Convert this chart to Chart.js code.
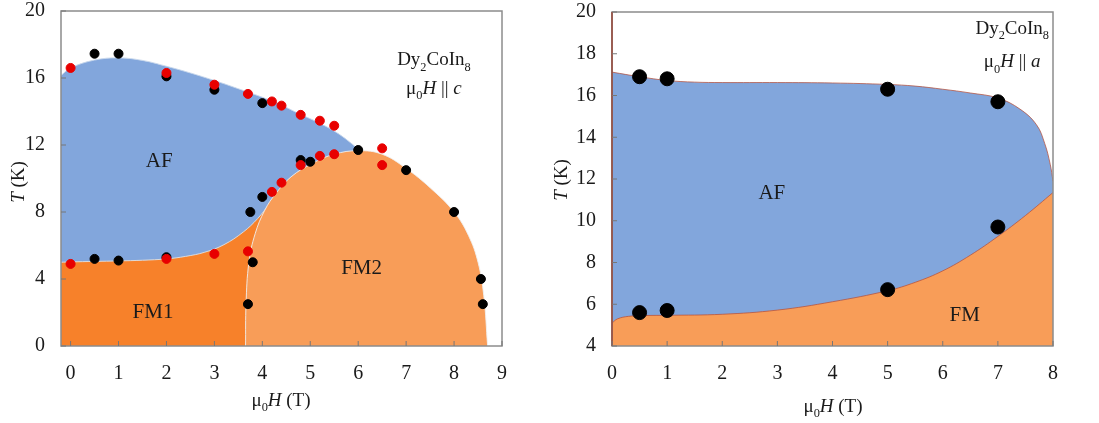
<!DOCTYPE html>
<html lang="en">
<head>
    <meta charset="UTF-8">
    <title>Dy2CoIn8 phase diagrams</title>
    <script src="https://cdn.jsdelivr.net/npm/chart.js"></script>
    <style>
        body { margin: 0; background: #fff; }
        canvas { position: absolute; top: 0; }
        #chartC { left: 0; }
        #chartA { left: 550px; }
    </style>
</head>
<body>
    <canvas id="chartC" width="550" height="423"></canvas>
    <canvas id="chartA" width="549" height="423"></canvas>

    <script>
        // ---- left panel: field along c ----
        const cHTicks = [0, 1, 2, 3, 4, 5, 6, 7, 8, 9];
        const cTTicks = [0, 4, 8, 12, 16, 20];

        const cBlackH = [0.5, 1, 2, 3, 4, 4.8, 5, 6, 7, 8, 4, 3.75, 0.5, 1, 2, 3.8, 3.7, 8.56, 8.6];
        const cBlackT = [17.45, 17.45, 16.1, 15.3, 14.5, 11.1, 11.0, 11.7, 10.5, 8.0, 8.9, 8.0, 5.2, 5.1, 5.3, 5.0, 2.5, 4.0, 2.5];
        const cRedH = [0, 2, 3, 3.7, 4.2, 4.4, 4.8, 5.2, 5.5, 6.5, 6.5, 5.5, 5.2, 4.8, 4.4, 4.2, 0, 2, 3, 3.7];
        const cRedT = [16.6, 16.3, 15.6, 15.05, 14.6, 14.35, 13.8, 13.45, 13.15, 11.8, 10.8, 11.45, 11.35, 10.8, 9.75, 9.2, 4.9, 5.2, 5.5, 5.65];

        // phase boundaries
        const cAfH = [-0.2, 0, 0.5, 1, 1.5, 2, 2.5, 3, 3.5, 4, 4.4, 4.8, 5.2, 5.6, 6.05];
        const cAfT = [16.15, 16.6, 17.07, 17.2, 17.05, 16.7, 16.3, 15.85, 15.36, 14.85, 14.38, 13.82, 13.3, 12.65, 11.65];
        const cFm1H = [-0.2, 0, 0.5, 1, 1.5, 2, 2.4, 2.8, 3.2, 3.6, 3.9, 4.15, 4.3];
        const cFm1T = [5.0, 5.02, 5.05, 5.08, 5.12, 5.2, 5.35, 5.6, 6.05, 6.8, 7.6, 8.5, 9.1];
        const cFm2H = [3.65, 3.66, 3.72, 3.85, 4.05, 4.28, 4.6, 5.04, 5.5, 6.0, 6.5, 7.0, 7.5, 8.0, 8.3, 8.5, 8.62, 8.7];
        const cFm2T = [0, 2.5, 5.0, 6.7, 8.1, 9.1, 10.1, 10.9, 11.45, 11.66, 11.45, 10.6, 9.45, 8.0, 6.6, 5.0, 3.0, 0];

        // ---- right panel: field along a ----
        const aHTicks = [0, 1, 2, 3, 4, 5, 6, 7, 8];
        const aTTicks = [4, 6, 8, 10, 12, 14, 16, 18, 20];

        const aPtH = [0.5, 1, 5, 7, 0.5, 1, 5, 7];
        const aPtT = [16.9, 16.8, 16.3, 15.7, 5.6, 5.7, 6.7, 9.7];

        const aAfH = [0, 0.5, 1, 1.5, 2, 3, 4, 5, 5.5, 6, 6.5, 7, 7.4, 7.7, 7.85, 7.95, 8];
        const aAfT = [17.12, 16.9, 16.72, 16.64, 16.62, 16.62, 16.6, 16.53, 16.45, 16.3, 16.12, 15.88, 15.35, 14.6, 13.7, 12.7, 11.9];
        const aFmH = [0, 0.1, 0.3, 0.6, 1, 2, 3, 4, 5, 5.5, 6, 6.5, 7, 7.5, 8];
        const aFmT = [5.1, 5.3, 5.42, 5.46, 5.47, 5.52, 5.72, 6.12, 6.65, 7.05, 7.6, 8.35, 9.25, 10.25, 11.35];

        const BLUE = 'rgb(130,166,220)';
        const FM1_ORANGE = 'rgb(247,129,42)';
        const FM2_ORANGE = 'rgb(248,157,88)';
        const SERIF = "'Liberation Serif', 'DejaVu Serif', serif";

        function zip(xs, ys) {
            return xs.map((x, i) => ({ x: x, y: ys[i] }));
        }

        function area(xs, ys, color, line, order) {
            return {
                type: 'line',
                data: zip(xs, ys),
                backgroundColor: color,
                borderColor: line,
                borderWidth: 1,
                pointRadius: 0,
                fill: 'start',
                tension: 0.4,
                order: order
            };
        }

        function dots(xs, ys, color, r, order) {
            return {
                data: zip(xs, ys),
                backgroundColor: color,
                borderColor: color,
                pointRadius: r,
                pointHoverRadius: r,
                order: order
            };
        }

        // draws text made of runs: plain, italic or subscript
        function drawRuns(ctx, runs, x, y, size) {
            let total = 0;
            runs.forEach(r => {
                ctx.font = (r.i ? 'italic ' : '') + (r.s ? size * 0.65 : size) + 'px ' + SERIF;
                r.w = ctx.measureText(r.t).width;
                total += r.w;
            });
            let cx = x - total / 2;
            runs.forEach(r => {
                ctx.font = (r.i ? 'italic ' : '') + (r.s ? size * 0.65 : size) + 'px ' + SERIF;
                ctx.fillText(r.t, cx, r.s ? y + size * 0.28 : y);
                cx += r.w;
            });
        }

        const fieldTitle = [{ t: 'μ' }, { t: '0', s: true }, { t: 'H', i: true }, { t: ' (T)' }];
        const tempTitle = [{ t: 'T', i: true }, { t: ' (K)' }];
        const compound = [{ t: 'Dy' }, { t: '2', s: true }, { t: 'CoIn' }, { t: '8', s: true }];

        function decorPlugin(cfg) {
            return {
                id: 'decor',
                afterDraw(chart) {
                    const ctx = chart.ctx;
                    const a = chart.chartArea;
                    const xs = chart.scales.x, ys = chart.scales.y;
                    ctx.save();
                    // frame
                    ctx.strokeStyle = '#8c8c8c';
                    ctx.lineWidth = 1.5;
                    ctx.strokeRect(a.left, a.top, a.right - a.left, a.bottom - a.top);
                    if (cfg.leftEdge) {
                        ctx.strokeStyle = cfg.leftEdge;
                        ctx.beginPath();
                        ctx.moveTo(a.left, a.top);
                        ctx.lineTo(a.left, a.bottom);
                        ctx.stroke();
                    }
                    // inward tick marks
                    ctx.strokeStyle = '#777';
                    ctx.lineWidth = 1;
                    xs.ticks.forEach(t => {
                        const px = xs.getPixelForValue(t.value);
                        ctx.beginPath();
                        ctx.moveTo(px, a.bottom);
                        ctx.lineTo(px, a.bottom - 5);
                        ctx.stroke();
                    });
                    ys.ticks.forEach(t => {
                        const py = ys.getPixelForValue(t.value);
                        ctx.beginPath();
                        ctx.moveTo(a.left, py);
                        ctx.lineTo(a.left + 5, py);
                        ctx.stroke();
                    });
                    ctx.fillStyle = '#1a1a1a';
                    ctx.textBaseline = 'alphabetic';
                    // axis titles
                    drawRuns(ctx, fieldTitle, cfg.xTitle[0], cfg.xTitle[1], 19);
                    ctx.save();
                    ctx.translate(cfg.yTitle[0], cfg.yTitle[1]);
                    ctx.rotate(-Math.PI / 2);
                    drawRuns(ctx, tempTitle, 0, 0, 19);
                    ctx.restore();
                    // compound and field direction
                    const lx = xs.getPixelForValue(cfg.note[0]);
                    drawRuns(ctx, compound, lx, ys.getPixelForValue(cfg.note[1]), 19);
                    drawRuns(ctx, [{ t: 'μ' }, { t: '0', s: true }, { t: 'H', i: true }, { t: ' || ' }, { t: cfg.dir, i: true }],
                        lx, ys.getPixelForValue(cfg.note[2]), 19);
                    // phase names
                    cfg.phases.forEach(p => {
                        drawRuns(ctx, [{ t: p[0] }], xs.getPixelForValue(p[1]), ys.getPixelForValue(p[2]) + 7, 21);
                    });
                    ctx.restore();
                }
            };
        }

        function makeOptions(xMin, xMax, yMin, yMax, xTicks, yTicks, yWidth, rightPad, topPad) {
            const tickFont = { family: SERIF, size: 20 };
            return {
                responsive: false,
                animation: false,
                devicePixelRatio: 1,
                layout: { padding: { top: topPad, right: rightPad, left: 0, bottom: 0 } },
                plugins: { legend: { display: false }, tooltip: { enabled: false } },
                scales: {
                    x: {
                        type: 'linear',
                        min: xMin,
                        max: xMax,
                        grid: { display: false },
                        border: { display: false },
                        afterBuildTicks: s => { s.ticks = xTicks.map(v => ({ value: v })); },
                        afterFit: s => { s.height = 77; s.paddingLeft = 0; s.paddingRight = 0; },
                        ticks: { font: tickFont, color: '#1a1a1a', padding: 8 }
                    },
                    y: {
                        min: yMin,
                        max: yMax,
                        grid: { display: false },
                        border: { display: false },
                        afterBuildTicks: s => { s.ticks = yTicks.map(v => ({ value: v })); },
                        afterFit: s => { s.width = yWidth; s.paddingTop = 0; s.paddingBottom = 0; },
                        ticks: { font: tickFont, color: '#1a1a1a', padding: 8 }
                    }
                }
            };
        }

        new Chart(document.getElementById('chartC'), {
            type: 'scatter',
            data: {
                datasets: [
                    dots(cRedH, cRedT, 'rgb(232,0,0)', 4.5, 0),
                    dots(cBlackH, cBlackT, '#000', 4.5, 1),
                    area(cFm2H, cFm2T, FM2_ORANGE, 'rgba(240,240,240,0.9)', 2),
                    area(cFm1H, cFm1T, FM1_ORANGE, 'rgba(225,225,225,0.9)', 3),
                    area(cAfH, cAfT, BLUE, 'rgba(200,215,235,0.9)', 4)
                ]
            },
            options: makeOptions(-0.2, 9, 0, 20, cHTicks, cTTicks, 61, 48, 11),
            plugins: [decorPlugin({
                xTitle: [281, 406],
                yTitle: [24, 182],
                note: [7.58, 16.75, 15.05],
                dir: 'c',
                phases: [['AF', 1.85, 11.1], ['FM1', 1.72, 2.1], ['FM2', 6.07, 4.7]]
            })]
        });

        new Chart(document.getElementById('chartA'), {
            type: 'scatter',
            data: {
                datasets: [
                    dots(aPtH, aPtT, '#000', 7, 0),
                    area(aFmH, aFmT, FM2_ORANGE, 'rgba(180,80,60,0.75)', 1),
                    area(aAfH, aAfT, BLUE, 'rgba(180,80,60,0.75)', 2)
                ]
            },
            options: makeOptions(0, 8, 4, 20, aHTicks, aTTicks, 62, 46, 12),
            plugins: [decorPlugin({
                xTitle: [283, 412],
                yTitle: [17, 180],
                note: [7.26, 18.95, 17.35],
                dir: 'a',
                leftEdge: 'rgb(150,70,55)',
                phases: [['AF', 2.9, 11.37], ['FM', 6.4, 5.53]]
            })]
        });
    </script>
</body>
</html>
